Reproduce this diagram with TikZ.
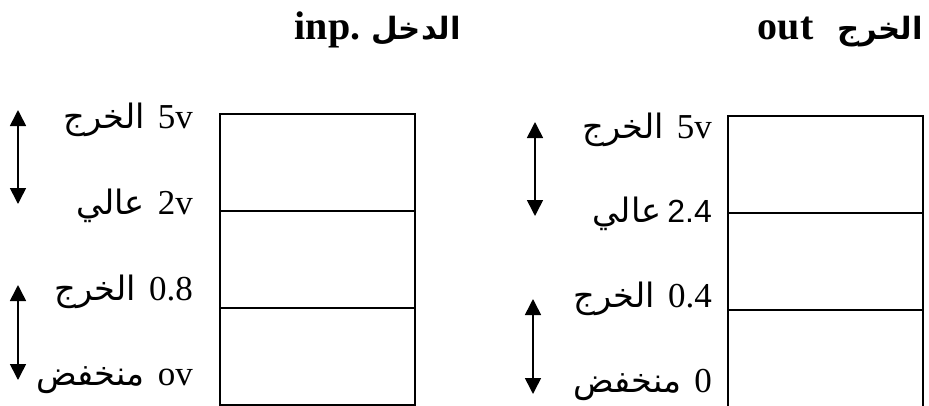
\documentclass[tikz,border=0pt]{standalone}
\usepackage{fontspec}
\setmainfont{Liberation Serif}
\newfontfamily\arabicfont[Script=Arabic,Scale=0.96]{DejaVu Sans}
\newfontfamily\arialfont{Liberation Sans}
\TeXXeTstate=1
\usetikzlibrary{arrows.meta, positioning}
\tikzstyle{cell} = [rectangle, draw, line width=1.6pt, minimum width=195pt, minimum height=97pt, inner sep=0pt, outer sep=0pt]
\tikzstyle{level} = [anchor=base east, inner sep=0pt, font=\fontsize{35}{40}\selectfont]
\tikzstyle{heading} = [anchor=base east, inner sep=0pt, font=\fontsize{40}{44}\selectfont\bfseries]
\tikzstyle{swing} = [draw, line width=1.6pt, {Triangle[width=16pt,length=16pt]}-{Triangle[width=16pt,length=16pt]}]
\newcommand{\ar}[1]{{\arabicfont\beginR #1\endR}}
\newcommand{\artitle}[1]{{\arabicfont\fontsize{32}{36}\selectfont\beginR #1\endR}}

\begin{document}
\begin{tikzpicture}[x=1pt, y=-1pt]
      \useasboundingbox (0,0) rectangle (929,405);
      % Headings
      \node (inp_title) [heading] at (461,39) {inp.\hspace{11pt}\artitle{الدخل}};
      \node (out_title) [heading] at (923,39) {out\hspace{24pt}\artitle{الخرج}};

      % Input column
      \node (in_high) [cell, anchor=north west] at (220,114) {};
      \node (in_mid) [cell, below=0pt of in_high] {};
      \node (in_low) [cell, below=0pt of in_mid] {};
      \node (in_5v) [level] at (193,128) {\ar{الخرج}\hspace{13pt}5v};
      \node (in_2v) [level] at (193,214) {\ar{عالي}\hspace{13pt}2v};
      \node (in_08) [level] at (193,300) {\ar{الخرج}\hspace{13pt}0.8};
      \node (in_0v) [level] at (193,385) {\ar{منخفض}\hspace{13pt}ov};
      \coordinate (in_high_top) at (18,110);
      \coordinate (in_high_bot) at (18,204);
      \coordinate (in_low_top) at (18,285);
      \coordinate (in_low_bot) at (18,380);

      % Output column
      \node (out_high) [cell, anchor=north west] at (728,116) {};
      \node (out_mid) [cell, below=0pt of out_high] {};
      \node (out_low) [cell, below=0pt of out_mid] {};
      \node (out_5v) [level] at (712,138) {\ar{الخرج}\hspace{13pt}5v};
      \node (out_24) [level] at (712,222) {\ar{عالي}\hspace{6pt}{\arialfont\fontsize{32}{36}\selectfont 2.4}};
      \node (out_04) [level] at (712,307) {\ar{الخرج}\hspace{13pt}0.4};
      \node (out_0) [level] at (712,392) {\ar{منخفض}\hspace{13pt}0};
      \coordinate (out_high_top) at (535,122);
      \coordinate (out_high_bot) at (535,216);
      \coordinate (out_low_top) at (533,299);
      \coordinate (out_low_bot) at (533,394);

      % Draw ranges
      \draw [swing] (in_high_top) -- (in_high_bot);
      \draw [swing] (in_low_top) -- (in_low_bot);
      \draw [swing] (out_high_top) -- (out_high_bot);
      \draw [swing] (out_low_top) -- (out_low_bot);
\end{tikzpicture}
\end{document}
